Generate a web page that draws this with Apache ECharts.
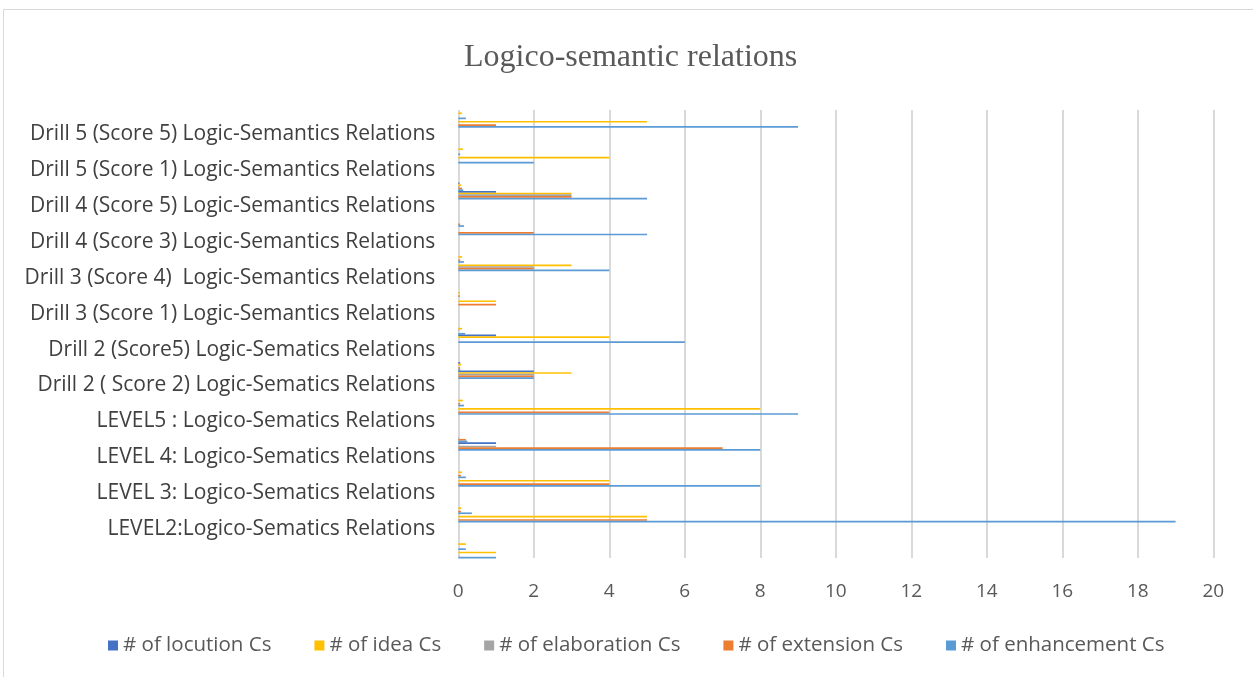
<!DOCTYPE html>
<html>
<head>
<meta charset="utf-8">
<script src="https://cdn.jsdelivr.net/npm/echarts@6/dist/echarts.min.js"></script>
<style>
  html, body { margin: 0; padding: 0; background: #ffffff; }
  #frame { position: absolute; left: 3px; top: 9px; width: 1260px; height: 680px; border: 1px solid #d9d9d9; box-sizing: border-box; }
  #chart { position: absolute; left: 0; top: 0; width: 1253px; height: 677px; }
</style>
</head>
<body>
<div id="frame"></div>
<div id="chart"></div>
<script>
// Category rows, listed top to bottom (the last row carries no label)
const categories = [
  'Drill 5 (Score 5) Logic-Semantics Relations',
  'Drill 5 (Score 1) Logic-Semantics Relations',
  'Drill 4 (Score 5) Logic-Semantics Relations',
  'Drill 4 (Score 3) Logic-Semantics Relations',
  'Drill 3 (Score 4)  Logic-Semantics Relations',
  'Drill 3 (Score 1) Logic-Semantics Relations',
  'Drill 2 (Score5) Logic-Sematics Relations',
  'Drill 2 ( Score 2) Logic-Sematics Relations',
  'LEVEL5 : Logico-Sematics Relations',
  'LEVEL 4: Logico-Sematics Relations',
  'LEVEL 3: Logico-Sematics Relations',
  'LEVEL2:Logico-Sematics Relations',
  ''
];

// Clause counts per row
const locution    = [0, 0, 1, 0, 0, 0, 1, 2, 0, 1, 0, 0, 0];
const idea        = [5, 4, 3, 0, 3, 1, 4, 3, 8, 0, 4, 5, 1];
const elaboration = [0, 0, 3, 0, 2, 0, 0, 2, 0, 1, 0, 0, 0];
const extension   = [1, 0, 3, 2, 2, 1, 0, 2, 4, 7, 4, 5, 0];
const enhancement = [9, 2, 5, 5, 4, 0, 6, 2, 9, 8, 8, 19, 1];

// Per-row rates (small companion bars)
const locutionRate    = [0, 0, 0.03, 0, 0, 0, 0, 0.05, 0, 0, 0, 0, 0];
const ideaRate        = [0.1, 0.12, 0.08, 0, 0.1, 0.04, 0.1, 0.08, 0.12, 0, 0.1, 0.08, 0.2];
const elaborationRate = [0, 0, 0.03, 0, 0, 0, 0.02, 0, 0, 0.02, 0, 0, 0];
const extensionRate   = [0, 0, 0.1, 0.05, 0.05, 0.04, 0, 0.05, 0.05, 0.2, 0.07, 0.07, 0];
const enhancementRate = [0.2, 0.05, 0.13, 0.15, 0.15, 0, 0.18, 0.05, 0.15, 0.24, 0.2, 0.36, 0.2];

const xTicks = { min: 0, max: 20, interval: 2 };

const seriesNames = ['# of locution Cs', '# of idea Cs', '# of elaboration Cs', '# of extension Cs', '# of enhancement Cs'];
const colors = ['#4472C4', '#FFC000', '#A5A5A5', '#ED7D31', '#5B9BD5'];

const FONT = 'Open Sans';
const TEXT = '#595959';

function barSeries(name, data, color) {
  return {
    name: name,
    type: 'bar',
    xAxisIndex: 0,
    yAxisIndex: 0,
    data: data,
    barGap: '0%',
    barCategoryGap: '53%',
    itemStyle: { color: color },
    emphasis: { disabled: true },
    animation: false
  };
}

const rates = [locutionRate, ideaRate, elaborationRate, extensionRate, enhancementRate];
const counts = [locution, idea, elaboration, extension, enhancement];

const series = [];
rates.forEach((d, i) => series.push(barSeries('rate ' + i, d, colors[i])));
counts.forEach((d, i) => series.push(barSeries(seriesNames[i], d, colors[i])));

const chart = echarts.init(document.getElementById('chart'), null, { renderer: 'canvas' });
chart.setOption({
  animation: false,
  backgroundColor: 'transparent',
  title: {
    text: 'Logico-semantic relations',
    left: 459,
    top: 37,
    textStyle: { fontFamily: 'Liberation Serif', fontSize: 32, fontWeight: 'normal', color: TEXT }
  },
  legend: {
    data: seriesNames,
    left: 103,
    top: 630,
    icon: 'rect',
    itemWidth: 10,
    itemHeight: 10,
    itemGap: 43,
    textStyle: { fontFamily: FONT, fontSize: 20.5, color: TEXT }
  },
  grid: [
    { left: 458.3, top: 101.25, width: 755, height: 466.7 },
    { left: 458.3, top: 110, width: 755, height: 448 }
  ],
  xAxis: [
    {
      gridIndex: 0, type: 'value', min: xTicks.min, max: xTicks.max, interval: xTicks.interval,
      axisLabel: { show: false }, splitLine: { show: false }, axisLine: { show: false }, axisTick: { show: false }
    },
    {
      gridIndex: 1, type: 'value', min: xTicks.min, max: xTicks.max, interval: xTicks.interval,
      axisLabel: { margin: 24, fontFamily: FONT, fontSize: 19, color: TEXT },
      splitLine: { show: true, showMinLine: true, showMaxLine: true, lineStyle: { color: '#d9d9d9', width: 2 } },
      axisLine: { show: false }, axisTick: { show: false }
    }
  ],
  yAxis: [
    {
      gridIndex: 0, type: 'category', inverse: true, data: categories,
      axisLine: { show: false }, axisTick: { show: false },
      axisLabel: {
        interval: 0, margin: 23, fontFamily: FONT, fontSize: 21, color: '#404040',
        lineHeight: 30,
        // the row title sits just under its bars
        formatter: (v) => '\n' + v
      }
    },
    { gridIndex: 1, type: 'value', show: false, min: 0, max: 1 }
  ],
  series: series
});
</script>
</body>
</html>
